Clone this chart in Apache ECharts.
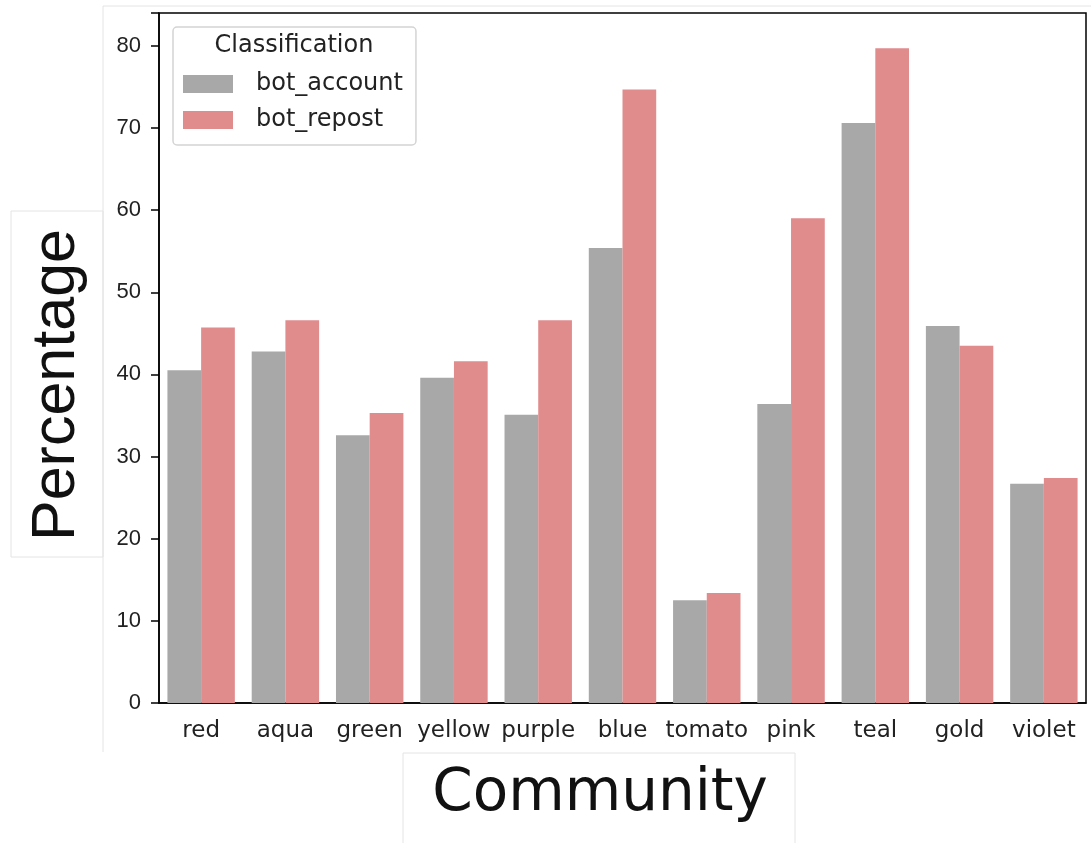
<!DOCTYPE html>
<html><head><meta charset="utf-8">
<script src="https://cdn.jsdelivr.net/npm/echarts@6/dist/echarts.min.js"></script>
<style>html,body{margin:0;padding:0;background:#fff}#c{width:1091px;height:843px}</style>
</head><body><div id="c"></div>
<script>
const categories = ['red','aqua','green','yellow','purple','blue','tomato','pink','teal','gold','violet'];
const botAccount = [40.5, 42.8, 32.6, 39.6, 35.1, 55.4, 12.5, 36.4, 70.6, 45.9, 26.7];
const botRepost  = [45.7, 46.6, 35.3, 41.6, 46.6, 74.7, 13.4, 59.0, 79.7, 43.5, 27.4];
const yTicks = [0, 10, 20, 30, 40, 50, 60, 70, 80];

const chart = echarts.init(document.getElementById('c'), null, {renderer: 'canvas'});
const txtFont = '"DejaVu Sans", sans-serif';
chart.setOption({
  animation: false,
  backgroundColor: '#fff',
  grid: {left: 159, right: 5, top: 13, bottom: 140, show: true, borderColor: '#000', borderWidth: 1.5, backgroundColor: 'transparent'},
  legend: {
    orient: 'vertical', left: 173, top: 27,
    padding: [45, 13, 13, 10],
    icon: 'rect',
    itemWidth: 50, itemHeight: 18, itemGap: 12,
    backgroundColor: '#fff', borderColor: '#d4d4d4', borderWidth: 1.5, borderRadius: 4,
    textStyle: {fontFamily: txtFont, fontSize: 24, color: '#222', padding: [0, 0, 0, 18], lineHeight: 18},
    itemStyle: {borderWidth: 0},
    data: ['bot_account', 'bot_repost']
  },
  xAxis: {
    type: 'category', data: categories,
    axisLine: {lineStyle: {color: '#000', width: 1.5}},
    axisTick: {alignWithLabel: true, length: 9, lineStyle: {color: '#000', width: 1.5}},
    axisLabel: {interval: 0, fontFamily: txtFont, fontSize: 23, color: '#222', margin: 17}
  },
  yAxis: {
    type: 'value', min: yTicks[0], max: 84, interval: 10,
    splitLine: {show: false},
    axisLine: {show: true, lineStyle: {color: '#000', width: 1.5}},
    axisTick: {show: true, length: 8, lineStyle: {color: '#000', width: 1.5}},
    axisLabel: {fontFamily: '"Liberation Sans", Arial, sans-serif', fontSize: 22, color: '#222', margin: 18,
      formatter: v => yTicks.includes(v) ? String(v) : ''}
  },
  series: [
    {name: 'bot_account', type: 'bar', data: botAccount, barGap: '0%', barCategoryGap: '20%',
     itemStyle: {color: '#a8a8a8'}},
    {name: 'bot_repost', type: 'bar', data: botRepost, barGap: '0%', barCategoryGap: '20%',
     itemStyle: {color: '#e08b8c'}}
  ],
  graphic: [
    {type: 'line', shape: {x1: 103, y1: 6, x2: 1091, y2: 6}, style: {stroke: '#e4e4e4', lineWidth: 1}, z: -1},
    {type: 'line', shape: {x1: 103, y1: 6, x2: 103, y2: 752}, style: {stroke: '#e4e4e4', lineWidth: 1}, z: -1},
    {type: 'rect', shape: {x: 11, y: 211, width: 92, height: 346}, style: {fill: 'none', stroke: '#e4e4e4', lineWidth: 1}, z: -1},
    {type: 'rect', shape: {x: 403, y: 753, width: 392, height: 95}, style: {fill: 'none', stroke: '#e4e4e4', lineWidth: 1}, z: -1},
    {type: 'text', x: 294, y: 46, style: {text: 'Classification', font: '24px "DejaVu Sans", sans-serif', fill: '#222', textAlign: 'center', textVerticalAlign: 'middle'}, z: 100},
    {type: 'text', x: 57, y: 385, rotation: Math.PI / 2, style: {text: 'Percentage', font: '61px "Liberation Sans", Arial, sans-serif', fill: '#111', textAlign: 'center', textVerticalAlign: 'middle'}},
    {type: 'text', x: 600, y: 795, style: {text: 'Community', font: '58px "DejaVu Sans", sans-serif', fill: '#111', textAlign: 'center', textVerticalAlign: 'middle'}}
  ]
});
</script></body></html>
